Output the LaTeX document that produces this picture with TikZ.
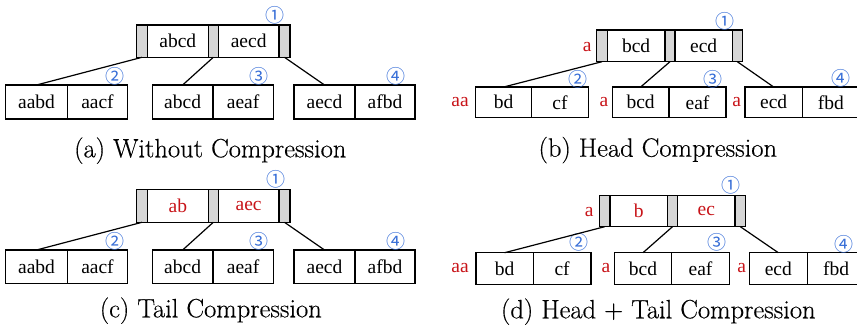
\documentclass[tikz,border=0pt]{standalone}
\usepackage{fontspec}
\newfontfamily\nodefont{Liberation Serif}
\newfontfamily\symfont{Noto Sans CJK SC}
\newfontfamily\capfont[FakeBold=0.35]{Latin Modern Roman}
\definecolor{numblue}{RGB}{55,110,215}
\definecolor{keyred}{RGB}{200,20,25}
\definecolor{bargray}{RGB}{214,214,214}
\newcommand\mkcell[7]{%
  \pgfmathsetmacro\cw{#4-#2}\pgfmathsetmacro\ch{#5-#3}%
  \node[#6, minimum width=\cw pt, minimum height=\ch pt] (#1) at ({(#2+#4)/2},{(#3+#5)/2}) {#7};}
\tikzset{
  base/.style={draw=black, line width=1.1pt, inner sep=0pt, outer sep=0pt,
    font=\nodefont\fontsize{19.5}{21}\selectfont},
  keycell/.style={base, fill=white},
  barcell/.style={base, fill=bargray},
  redtxt/.style={text=keyred, inner sep=0pt, font=\nodefont\fontsize{19.5}{21}\selectfont},
  numlbl/.style={text=numblue, inner sep=0pt, font=\symfont\fontsize{19}{20}\selectfont},
  captxt/.style={anchor=base, inner sep=0pt, font=\capfont\fontsize{26.5}{30}\selectfont},
  link/.style={draw=black, line width=1.2pt}
}
\begin{document}
\begin{tikzpicture}[x=1pt,y=-1pt]
\useasboundingbox (0,0) rectangle (857,331);
% ===== (a) =====
\mkcell{ag1}{136.7}{25}{147.3}{57.3}{barcell}{}
\mkcell{ak1}{147.3}{25}{208.3}{57.3}{keycell}{abcd}
\mkcell{ag2}{208.3}{25}{218.3}{57.3}{barcell}{}
\mkcell{ak2}{218.3}{25}{279}{57.3}{keycell}{aecd}
\mkcell{ag3}{279}{25}{290}{57.3}{barcell}{}
\mkcell{aL1a}{5.5}{85}{67.5}{119}{keycell}{aabd}
\mkcell{aL1b}{67.5}{85}{127.5}{119}{keycell}{aacf}
\mkcell{aL2a}{152.3}{85}{213}{119}{keycell}{abcd}
\mkcell{aL2b}{213}{85}{273.3}{119}{keycell}{aeaf}
\mkcell{aL3a}{294}{85}{355}{119}{keycell}{aecd}
\mkcell{aL3b}{355}{85}{415}{119}{keycell}{afbd}
\node[numlbl] (an1) at (275,15) {①};
\node[numlbl] (an2) at (115,76.7) {②};
\node[numlbl] (an3) at (259.3,76.7) {③};
\node[numlbl] (an4) at (395.7,76.7) {④};
\draw[link] (ag1.south) -- (aL1a.north);
\draw[link] (ag2.south) -- (aL2a.north);
\draw[link] (ag3.south) -- (aL3a.north);
\node[captxt] (acap) at (210.3,157.3) {(a) Without Compression};
% ===== (c) =====
\mkcell{cg1}{136.7}{189.5}{147.3}{222.3}{barcell}{}
\mkcell{ck1}{147.3}{189.5}{208.3}{222.3}{keycell}{\textcolor{keyred}{ab}}
\mkcell{cg2}{208.3}{189.5}{218.3}{222.3}{barcell}{}
\mkcell{ck2}{218.3}{189.5}{279}{222.3}{keycell}{\textcolor{keyred}{aec}}
\mkcell{cg3}{279}{189.5}{290}{222.3}{barcell}{}
\mkcell{cL1a}{5.5}{250}{67.5}{283.8}{keycell}{aabd}
\mkcell{cL1b}{67.5}{250}{127.5}{283.8}{keycell}{aacf}
\mkcell{cL2a}{152.3}{250}{213}{283.8}{keycell}{abcd}
\mkcell{cL2b}{213}{250}{273.3}{283.8}{keycell}{aeaf}
\mkcell{cL3a}{294}{250}{355}{283.8}{keycell}{aecd}
\mkcell{cL3b}{355}{250}{415}{283.8}{keycell}{afbd}
\node[numlbl] (cn1) at (276,179) {①};
\node[numlbl] (cn2) at (115,241) {②};
\node[numlbl] (cn3) at (259.3,241) {③};
\node[numlbl] (cn4) at (395.7,241) {④};
\draw[link] (cg1.south) -- (cL1a.north);
\draw[link] (cg2.south) -- (cL2a.north);
\draw[link] (cg3.south) -- (cL3a.north);
\node[captxt] (ccap) at (210.8,317.3) {(c) Tail Compression};
% ===== (b) =====
\mkcell{bg1}{596.7}{30}{607.3}{61.7}{barcell}{}
\mkcell{bk1}{607.3}{30}{665}{61.7}{keycell}{bcd}
\mkcell{bg2}{665}{30}{675}{61.7}{barcell}{}
\mkcell{bk2}{675}{30}{732.3}{61.7}{keycell}{ecd}
\mkcell{bg3}{732.3}{30}{742.3}{61.7}{barcell}{}
\node[redtxt] (bp0) at (587.3,47.5) {a};
\mkcell{bL1a}{475.7}{87}{531.7}{117.5}{keycell}{bd}
\mkcell{bL1b}{531.7}{87}{588.3}{117.5}{keycell}{cf}
\mkcell{bL2a}{612.3}{87}{669}{117.5}{keycell}{bcd}
\mkcell{bL2b}{669}{87}{726}{117.5}{keycell}{eaf}
\mkcell{bL3a}{745}{87}{802.3}{117.5}{keycell}{ecd}
\mkcell{bL3b}{802.3}{87}{859.6}{117.5}{keycell}{fbd}
\node[redtxt] (bp1) at (460,102.5) {aa};
\node[redtxt] (bp2) at (604,102.5) {a};
\node[redtxt] (bp3) at (736.7,102.5) {a};
\node[numlbl] (bn1) at (725,21) {①};
\node[numlbl] (bn2) at (577.7,79) {②};
\node[numlbl] (bn3) at (713.3,79) {③};
\node[numlbl] (bn4) at (841,78.5) {④};
\draw[link] (bg1.south) -- (bL1a.north);
\draw[link] (bg2.south) -- (bL2a.north);
\draw[link] (bg3.south) -- (bL3a.north);
\node[captxt] (bcap) at (657.8,156.7) {(b) Head Compression};
% ===== (d) =====
\mkcell{dg1}{599.3}{195.7}{610}{226.7}{barcell}{}
\mkcell{dk1}{610}{195.7}{667.3}{226.7}{keycell}{\textcolor{keyred}{b}}
\mkcell{dg2}{667.3}{195.7}{677.7}{226.7}{barcell}{}
\mkcell{dk2}{677.7}{195.7}{735}{226.7}{keycell}{\textcolor{keyred}{ec}}
\mkcell{dg3}{735}{195.7}{745.7}{226.7}{barcell}{}
\node[redtxt] (dp0) at (589.3,212.5) {a};
\mkcell{dL1a}{476}{252.7}{533.3}{284.3}{keycell}{bd}
\mkcell{dL1b}{533.3}{252.7}{591}{284.3}{keycell}{cf}
\mkcell{dL2a}{614.3}{252.7}{671.7}{284.3}{keycell}{bcd}
\mkcell{dL2b}{671.7}{252.7}{729.3}{284.3}{keycell}{eaf}
\mkcell{dL3a}{749.3}{252.7}{807.3}{284.3}{keycell}{ecd}
\mkcell{dL3b}{807.3}{252.7}{865}{284.3}{keycell}{fbd}
\node[redtxt] (dp1) at (460,268.5) {aa};
\node[redtxt] (dp2) at (606,268.5) {a};
\node[redtxt] (dp3) at (741.7,268.5) {a};
\node[numlbl] (dn1) at (731,185) {①};
\node[numlbl] (dn2) at (579.3,242.7) {②};
\node[numlbl] (dn3) at (716.7,242.7) {③};
\node[numlbl] (dn4) at (844.3,244) {④};
\draw[link] (dg1.south) -- (dL1a.north);
\draw[link] (dg2.south) -- (dL2a.north);
\draw[link] (dg3.south) -- (dL3a.north);
\node[captxt] (dcap) at (658.3,318.3) {(d) Head + Tail Compression};
\end{tikzpicture}
\end{document}
